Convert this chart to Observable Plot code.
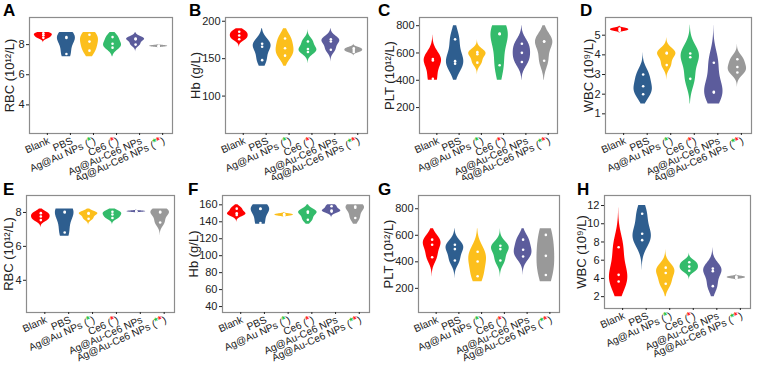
<!DOCTYPE html>
<html><head><meta charset="utf-8">
<script src="https://cdn.jsdelivr.net/npm/d3@7"></script>
<script src="https://cdn.jsdelivr.net/npm/@observablehq/plot@0.6"></script>
<style>
html,body{margin:0;padding:0;background:#fff}
body{width:757px;height:365px;position:relative;overflow:hidden;font-family:Arial,"Liberation Sans",sans-serif}
.panel{position:absolute;overflow:visible}
.letter{position:absolute;font-weight:bold;font-size:17px;line-height:1;color:#000}
</style></head><body>
<script>
// ---------- data ----------
const groups = ["Blank","PBS","Ag@Au NPs (*)","Ce6 (*)","Ag@Au-Ce6 NPs","Ag@Au-Ce6 NPs (**)"];
const groupColors = ["#ff0000","#2e5e8f","#fcbf1c","#33bb6b","#5c5c9c","#999999"];

const rbcA = [[8.75,8.62,8.45],[8.5,8.44,7.38],[8.65,8.2,7.6],[8.5,8.06,7.8],[8.4,8.35,8.0],[7.85,7.89,7.93]];
const hbB  = [[186,181,176],[170,166,148],[177,164,154],[173,163,159],[176,173,162],[159,161.5,164]];
const pltC = [[555,545,410],[700,540,522],[606,591,529],[742,738,510],[668,601,534],[686,682,543]];
const wbcD = [[5.22,5.28,5.34],[3.0,2.4,2.0],[4.1,4.07,3.48],[4.07,3.88,2.78],[3.6,2.12,2.08],[3.78,3.38,3.1]];
const rbcE = [[7.96,7.76,7.55],[8.04,8.0,6.82],[7.96,7.92,7.63],[8.04,7.88,7.67],[8.02,8.05,8.08],[8.04,8.0,7.41]];
const hbF  = [[155.5,150,148],[155.5,155,138.5],[147,148,149],[152,150.6,142.4],[158.4,153.2,152],[158,156.5,144.5]];
const pltG = [[567,529,435],[529,496,410],[476,403,291],[521,496,410],[567,491,440],[603,445,301]];
const wbcH = [[7.42,4.39,3.66],[11.1,8.9,8.2],[5.18,4.6,3.42],[5.77,5.3,4.85],[5.08,4.8,3.15],[4.0,4.1,4.2]];

// violin value limits per panel (range the density is kept in)
const limits = [[7.2,8.8],[140,190],[400,800],[1.5,5.5],[6.6,8.2],[137,160],[250,650],[2,12]];
// axis domains and ticks
const yDomains = [[2.1,9.8],[50,205],[10,860],[0,5.9],[2.1,9.0],[33,171],[18,900],[0.7,13.1]];
const yTicks = [[4,6,8],[100,150,200],[200,400,600,800],[1,2,3,4,5],[4,6,8],[40,60,80,100,120,140,160],[200,400,600,800],[2,4,6,8,10,12]];
const yLabels = ["RBC (10¹²/L)","Hb (g/L)","PLT (10¹²/L)","WBC (10⁹/L)","RBC (10¹²/L)","Hb (g/L)","PLT (10¹²/L)","WBC (10⁹/L)"];
const letters = ["A","B","C","D","E","F","G","H"];
const panelData = [rbcA,hbB,pltC,wbcD,rbcE,hbF,pltG,wbcH];

// ---------- layout ----------
const layout = [
  {left:0,   top:0,   h:180, ml:29, mr:17, mt:17, mb:47, lo:25, lx:3,   ly:2},
  {left:189, top:0,   h:180, ml:36, mr:11, mt:17, mb:47, lo:35, lx:189, ly:2},
  {left:378, top:0,   h:180, ml:41, mr:10, mt:17, mb:47, lo:35, lx:378, ly:2},
  {left:568, top:0,   h:180, ml:37, mr:6,  mt:17, mb:47, lo:22, lx:580, ly:2},
  {left:0,   top:180, h:185, ml:26, mr:15, mt:15, mb:53, lo:23, lx:3,   ly:181},
  {left:189, top:180, h:185, ml:33, mr:9,  mt:15, mb:53, lo:34, lx:188, ly:181},
  {left:378, top:180, h:185, ml:40, mr:8,  mt:15, mb:53, lo:35, lx:378, ly:181},
  {left:568, top:180, h:185, ml:36, mr:7,  mt:15, mb:57, lo:28, lx:577, ly:181}
];

// Silverman-style bandwidth from the sample standard deviation
function bandwidth(v){
  const sd = d3.deviation(v) || Math.abs(v[0]) * 0.01 || 1;
  return 0.9 * sd * Math.pow(v.length, -0.2);
}
function violin(values, gi, lim, halfW){
  const bw = bandwidth(values);
  const from = d3.min(values) - 3*bw, to = d3.max(values) + 3*bw;
  const n = 256, pts = [];
  const dens = y => d3.sum(values, v => Math.exp(-0.5*((y-v)/bw)**2));
  for (let k=0;k<n;k++){ const y = from + (to-from)*k/(n-1); pts.push([y, dens(y)]); }
  const mx = d3.max(pts, p=>p[1]);
  const rows = [];
  const lo = Math.max(from, lim[0]), hi = Math.min(to, lim[1]);
  const add = (y,d) => rows.push({g: groups[gi], y, x1: gi+1 - halfW*d/mx, x2: gi+1 + halfW*d/mx});
  add(lo, dens(lo));
  for (const [y,d] of pts) if (y>lo && y<hi) add(y,d);
  add(hi, dens(hi));
  return rows;
}

const halfW = 0.39;
function decorate(svg){
  const ns = "http://www.w3.org/2000/svg";
  svg.querySelectorAll('g[aria-label="x-axis tick label"] text').forEach(t=>{
    const label = t.textContent;
    const m = label.match(/^(.*)\((\*+)\)$/);
    if(!m) return;
    let cols;
    if (label.startsWith("Ag@Au NPs")) cols = ["#1fbf3f"];
    else if (label.startsWith("Ce6")) cols = ["#ff1a1a"];
    else cols = ["#1fbf3f","#ff1a1a"];
    t.textContent = "";
    const a = document.createElementNS(ns,"tspan"); a.textContent = m[1] + "("; t.appendChild(a);
    cols.forEach((c,i)=>{
      const s = document.createElementNS(ns,"tspan");
      s.textContent = "*"; s.setAttribute("fill", c);
      s.setAttribute("font-size","10px"); s.setAttribute("font-weight","bold");
      if (i===0) s.setAttribute("dy","-2");
      t.appendChild(s);
    });
    const b = document.createElementNS(ns,"tspan"); b.textContent = ")"; b.setAttribute("dy","2"); t.appendChild(b);
  });
  svg.querySelectorAll('g[aria-label="y-axis label"] text').forEach(t=>{ t.setAttribute("font-size","13px"); });
}

panelData.forEach((data, idx)=>{
  const L = layout[idx];
  const rows = data.flatMap((vals, gi) => violin(vals, gi, limits[idx], halfW));
  const pts = data.flatMap((vals, gi) => vals.map(v => ({x: gi+1, v})));
  const chart = Plot.plot({
    width: 189, height: L.h,
    marginLeft: L.ml, marginRight: L.mr, marginTop: L.mt, marginBottom: L.mb,
    style: {fontFamily: "Arial, 'Liberation Sans', sans-serif", fontSize: "11px", color: "#222", background: "white", overflow: "visible"},
    x: {domain: [0.4, 6.6], axis: null},
    y: {domain: yDomains[idx], axis: null},
    color: {domain: groups, range: groupColors},
    marks: [
      Plot.areaX(rows, {y: "y", x1: "x1", x2: "x2", z: "g", fill: "g", curve: "linear"}),
      Plot.dot(pts, {x: "x", y: "v", r: 1.3, fill: "white"}),
      Plot.frame({stroke: "#8c8c8c", strokeWidth: 1.2}),
      Plot.axisY({ticks: yTicks[idx], tickFormat: d => String(d), tickSize: 3, tickPadding: 2,
        label: yLabels[idx], labelAnchor: "center", labelOffset: L.lo, labelArrow: "none"}),
      Plot.axisX({ticks: [1,2,3,4,5,6], tickFormat: i => groups[i-1], tickRotate: -24, tickSize: 2, tickPadding: 1,
        textAnchor: "end", lineAnchor: "top", dx: 4, fontSize: 10.2, label: null})
    ]
  });
  chart.classList.add("panel");
  chart.style.left = L.left + "px";
  chart.style.top = L.top + "px";
  decorate(chart);
  document.body.appendChild(chart);
  const lt = document.createElement("div");
  lt.className = "letter"; lt.textContent = letters[idx];
  lt.style.left = L.lx + "px"; lt.style.top = L.ly + "px";
  document.body.appendChild(lt);
});
</script>
</body></html>
